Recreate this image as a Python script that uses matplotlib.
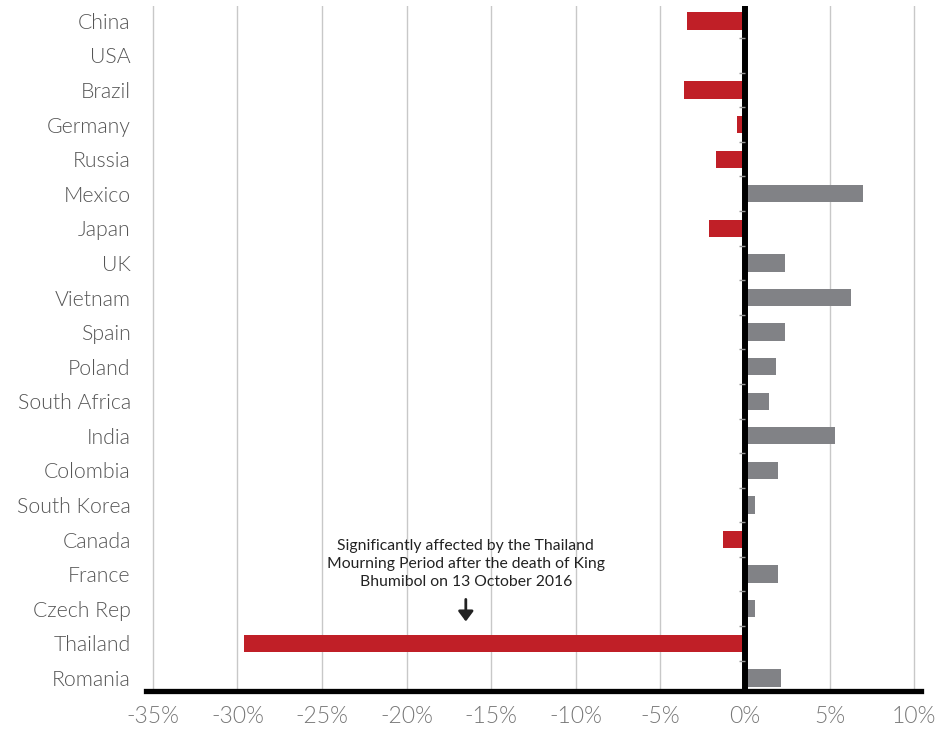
import matplotlib.pyplot as plt
import numpy as np

countries = ["China", "USA", "Brazil", "Germany", "Russia", "Mexico", "Japan", "UK",
             "Vietnam", "Spain", "Poland", "South Africa", "India", "Colombia",
             "South Korea", "Canada", "France", "Czech Rep", "Thailand", "Romania"]
change = [-3.4, -0.1, -3.6, -0.45, -1.7, 7.0, -2.1, 2.35,
          6.25, 2.35, 1.85, 1.4, 5.3, 1.95,
          0.6, -1.3, 1.95, 0.6, -29.6, 2.15]
xticks = [-35, -30, -25, -20, -15, -10, -5, 0, 5, 10]
note = "Significantly affected by the Thailand\nMourning Period after the death of King\nBhumibol on 13 October 2016"

RED = "#c01f27"
GREY = "#818286"

plt.rcParams["font.family"] = ["Lato", "DejaVu Sans"]

fig = plt.figure(figsize=(9.48, 7.32), dpi=100)
ax = fig.add_axes([0.154, 0.056, 0.8175, 0.9358])

y = np.arange(len(countries))
cols = [RED if v < 0 else GREY for v in change]
ax.barh(y, change, height=0.5, color=cols, zorder=2)

ax.set_ylim(19.38, -0.43)
ax.set_xlim(-35.4, 10.4)
ax.set_xticks(xticks)
ax.set_xticklabels([f"{t}%" for t in xticks])
ax.set_yticks(y)
ax.set_yticklabels(countries)
ax.tick_params(axis="both", length=0)
ax.tick_params(axis="y", pad=11, labelsize=15.3, labelcolor="#555555")
ax.tick_params(axis="x", pad=11, labelsize=16.5, labelcolor="#777777")
for lab in ax.get_xticklabels() + ax.get_yticklabels():
    lab.set_fontweight(300)

ax.grid(axis="x", color="#c8c8c8", linewidth=1, zorder=0)
ax.set_axisbelow(True)
for s in ["top", "right", "left"]:
    ax.spines[s].set_visible(False)
ax.spines["bottom"].set_linewidth(3.8)
ax.spines["bottom"].set_color("black")

# zero line with small ticks between categories
ax.axvline(0, color="black", linewidth=4.3, zorder=3)
ax.hlines(y[:-1] + 0.5, -0.35, 0, color="#999999", linewidth=1, zorder=3)

ax.text(-16.5, 15.7, note, ha="center", va="center", fontsize=11.3,
        color="#222222", linespacing=1.35)
ax.annotate("", xy=(-16.5, 17.45), xytext=(-16.5, 16.65),
            arrowprops=dict(arrowstyle="-|>,head_width=0.45,head_length=0.6",
                            color="#222222", lw=2))

plt.savefig("out.png", dpi=100)
